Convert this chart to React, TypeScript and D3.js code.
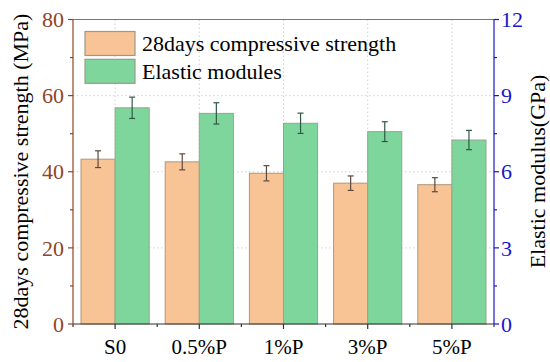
import React from "react";
import * as d3 from "d3";

const categories = ["S0", "0.5%P", "1%P", "3%P", "5%P"];
const strength = [43.3, 42.6, 39.6, 37.0, 36.6];
const strengthErr = [2.2, 2.1, 2.0, 1.9, 1.85];
const modulus = [8.52, 8.3, 7.91, 7.58, 7.25];
const modulusErr = [0.42, 0.42, 0.4, 0.39, 0.38];
const leftTicks = [0, 20, 40, 60, 80];
const rightTicks = [0, 3, 6, 9, 12];
const seriesNames = ["28days compressive strength", "Elastic modulus"];
const legendLabels = ["28days compressive strength", "Elastic modules"];

const W = 550, H = 362;
const L = 73, R = 494, T = 19.5, B = 324;
const FONT = "Liberation Serif";
const ORANGE = "#F9C495";
const GREEN = "#7ED69C";
const LEFTC = "#8E4526";
const RIGHTC = "#1616CC";
const tstyle: React.CSSProperties = { fontFamily: FONT };

export default function App() {
  const x = d3.scaleBand<string>().domain(categories).range([L, R]).paddingInner(0.19).paddingOuter(0.095);
  const xs = d3.scaleBand<string>().domain(seriesNames).range([0, x.bandwidth()]);
  const yL = d3.scaleLinear().domain([0, 80]).range([B, T]);
  const yR = d3.scaleLinear().domain([0, 12]).range([B, T]);
  const step = x.step();
  const centers = categories.map((c) => (x(c) as number) + x.bandwidth() / 2);
  const bounds = d3.range(categories.length + 1).map((i) => L + i * step);
  const leftMinor = d3.range(10, 80, 20);
  const rightMinor = d3.range(1.5, 12, 3);

  const bars: React.ReactNode[] = [];
  categories.forEach((c, i) => {
    const x0 = x(c) as number;
    const xa = x0 + (xs(seriesNames[0]) as number);
    const xb = x0 + (xs(seriesNames[1]) as number);
    const bw = xs.bandwidth();
    bars.push(
      <rect key={"a" + i} x={xa} y={yL(strength[i])} width={bw} height={B - yL(strength[i])} fill={ORANGE} stroke="#B0957A" strokeWidth={1} />
    );
    bars.push(
      <rect key={"b" + i} x={xb} y={yR(modulus[i])} width={bw} height={B - yR(modulus[i])} fill={GREEN} stroke="#8FA88A" strokeWidth={1} />
    );
    const errs = [
      { cx: xa + bw / 2, hi: yL(strength[i] + strengthErr[i]), lo: yL(strength[i] - strengthErr[i]), col: "#5a4a40" },
      { cx: xb + bw / 2, hi: yR(modulus[i] + modulusErr[i]), lo: yR(modulus[i] - modulusErr[i]), col: "#2f5a45" },
    ];
    errs.forEach((e, j) => {
      bars.push(
        <g key={"e" + i + "_" + j} stroke={e.col} strokeWidth={1.2}>
          <line x1={e.cx} x2={e.cx} y1={e.hi} y2={e.lo} />
          <line x1={e.cx - 3} x2={e.cx + 3} y1={e.hi} y2={e.hi} />
          <line x1={e.cx - 3} x2={e.cx + 3} y1={e.lo} y2={e.lo} />
        </g>
      );
    });
  });

  return (
    <svg width={W} height={H} style={{ position: "absolute", left: 0, top: 0, background: "#fff" }}>
      {/* grid */}
      <g stroke="#d0d0d0" strokeWidth={1} strokeDasharray="1.5,2.5">
        {leftTicks.filter((t) => t > 0 && t < 80).map((t) => (
          <line key={"gy" + t} x1={L} x2={R} y1={yL(t)} y2={yL(t)} />
        ))}
        {centers.map((cx, i) => (
          <line key={"gx" + i} x1={cx} x2={cx} y1={T} y2={B} />
        ))}
      </g>
      {bars}
      {/* top frame */}
      <line x1={L} x2={R} y1={T} y2={T} stroke="#777" strokeWidth={1.2} />
      {/* bottom axis */}
      <g stroke="#333" strokeWidth={1.2}>
        <line x1={L} x2={R} y1={B} y2={B} />
        {centers.map((cx, i) => (
          <line key={"bt" + i} x1={cx} x2={cx} y1={B} y2={B + 5} />
        ))}
        {bounds.map((bx, i) => (
          <line key={"bm" + i} x1={bx} x2={bx} y1={B} y2={B + 3} />
        ))}
      </g>
      {categories.map((c, i) => (
        <text key={"xl" + i} x={centers[i]} y={353.5} textAnchor="middle" fontSize={21} fill="#000" style={tstyle}>
          {c}
        </text>
      ))}
      {/* left axis */}
      <g stroke={LEFTC} strokeWidth={1.2}>
        <line x1={L} x2={L} y1={T} y2={B} />
        {leftTicks.map((t) => (
          <line key={"lt" + t} x1={L - 5} x2={L} y1={yL(t)} y2={yL(t)} />
        ))}
        {leftMinor.map((t) => (
          <line key={"lm" + t} x1={L - 3} x2={L} y1={yL(t)} y2={yL(t)} />
        ))}
      </g>
      {leftTicks.map((t) => (
        <text key={"ll" + t} x={L - 9} y={yL(t)} dy="0.35em" textAnchor="end" fontSize={22} fill={LEFTC} style={tstyle}>
          {t}
        </text>
      ))}
      <text transform={`translate(28,171.5) rotate(-90)`} textAnchor="middle" fontSize={22} fill="#000" style={tstyle}>
        28days compressive strength (MPa)
      </text>
      {/* right axis */}
      <g stroke={RIGHTC} strokeWidth={1.2}>
        <line x1={R} x2={R} y1={T} y2={B} />
        {rightTicks.map((t) => (
          <line key={"rt" + t} x1={R} x2={R + 5} y1={yR(t)} y2={yR(t)} />
        ))}
        {rightMinor.map((t) => (
          <line key={"rm" + t} x1={R} x2={R + 3} y1={yR(t)} y2={yR(t)} />
        ))}
      </g>
      {rightTicks.map((t) => (
        <text key={"rl" + t} x={R + 7} y={yR(t)} dy="0.35em" textAnchor="start" fontSize={22} fill={RIGHTC} style={tstyle}>
          {t}
        </text>
      ))}
      <text transform={`translate(545,171.5) rotate(-90)`} textAnchor="middle" fontSize={22} fill="#000" style={tstyle}>
        Elastic modulus(GPa)
      </text>
      {/* legend */}
      {legendLabels.map((lab, i) => (
        <g key={"lg" + i} transform={`translate(85,${31.5 + i * 27.8})`}>
          <rect x={0} y={0} width={50} height={24} fill={i === 0 ? ORANGE : GREEN} stroke="#9a9a8a" strokeWidth={1.2} />
          <text x={57} y={12} dy="0.35em" fontSize={22} fill="#000" style={tstyle}>
            {lab}
          </text>
        </g>
      ))}
    </svg>
  );
}
